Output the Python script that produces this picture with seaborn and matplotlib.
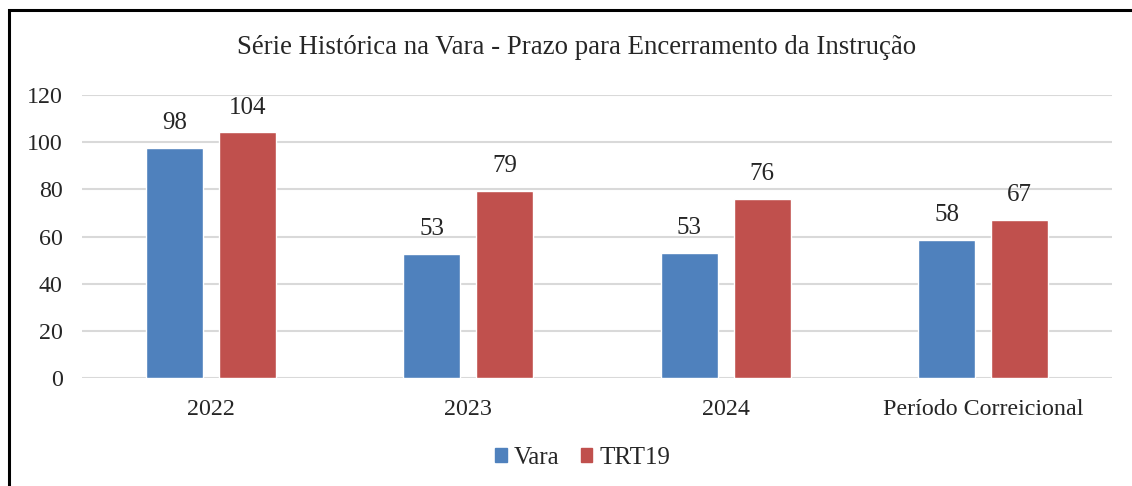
import matplotlib as mpl
from matplotlib import pyplot as plt
import seaborn as sns
import pandas as pd

sns.set_style("white")
plt.rcParams['font.family'] = ['Liberation Serif', 'DejaVu Serif']

categories = ['2022', '2023', '2024', 'Período Correicional']
vara = [97.6, 52.6, 53.2, 58.5]
trt19 = [104.1, 79.2, 75.9, 67.0]
vara_labels = ['98', '53', '53', '58']
trt19_labels = ['104', '79', '76', '67']
series = ['Vara', 'TRT19']
colors = ['#4F81BD', '#C0504D']

df = pd.DataFrame({
    'cat': categories * 2,
    'value': vara + trt19,
    'serie': ['Vara'] * 4 + ['TRT19'] * 4,
})

fig = plt.figure(figsize=(11.32, 4.86), dpi=100)
ax = fig.add_axes([82 / 1132, 108 / 486, 1030 / 1132, 283 / 486])

sns.barplot(data=df, x='cat', y='value', hue='serie', hue_order=series,
            palette=colors, width=0.567, gap=0.22, ax=ax, legend=False,
            saturation=1, errorbar=None)

for cont, labs in zip(ax.containers, [vara_labels, trt19_labels]):
    ax.bar_label(cont, labels=labs, padding=10, fontsize=18)

ax.set_ylim(0, 120)
ax.set_xlim(-0.5, 3.5)
ax.set_yticks(range(0, 121, 20))
ax.yaxis.grid(True, color='#D9D9D9', linewidth=1.5)
ax.set_axisbelow(True)
for s in ax.spines.values():
    s.set_visible(False)
ax.tick_params(axis='both', labelsize=17.3, length=0)
ax.tick_params(axis='y', pad=14)
ax.tick_params(axis='x', pad=15)
ax.set_xlabel('')
ax.set_ylabel('')

fig.text(576.5 / 1132, (486 - 47) / 486, 'Série Histórica na Vara - Prazo para Encerramento da Instrução',
         ha='center', va='center', fontsize=19.3)

handles = [mpl.patches.Patch(color=c, label=l) for c, l in zip(colors, series)]
fig.legend(handles=handles, loc='center', bbox_to_anchor=(583 / 1132, (486 - 458) / 486),
           ncol=2, frameon=False, fontsize=18, handlelength=0.45, handleheight=0.45,
           handletextpad=0.3, columnspacing=0.85)

border = mpl.patches.Rectangle((9 / 1132, -0.1), 1.2, (486 - 10) / 486 + 0.1,
                               transform=fig.transFigure, fill=False,
                               edgecolor='black', linewidth=2.2, clip_on=False)
fig.patches.append(border)

fig.savefig('out.png', dpi=100)
